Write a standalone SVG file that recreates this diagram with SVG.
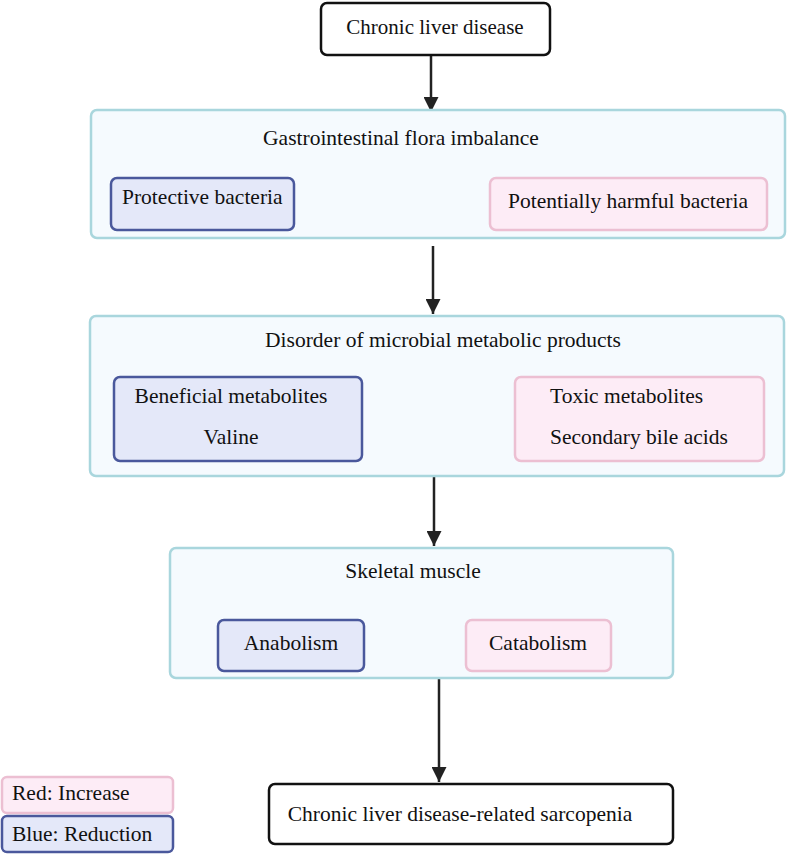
<svg xmlns="http://www.w3.org/2000/svg" width="787" height="856" viewBox="0 0 787 856">
<style>
text{font-family:"Liberation Serif","Times New Roman",serif;font-size:21.5px;fill:#111}
.blk{fill:#fff;stroke:#111;stroke-width:2.5}
.cont{fill:#f5fafe;stroke:#a9d6dd;stroke-width:2.5}
.blue{fill:#e4e8f9;stroke:#4a589c;stroke-width:2.5}
.red{fill:#fdecf6;stroke:#ecbfd2;stroke-width:2.5}
.c{text-anchor:middle}
.conn line{stroke:#222;stroke-width:2.5}
</style>
<defs>
<marker id="ah" viewBox="0 0 10 10" refX="10" refY="5" markerWidth="6" markerHeight="6" markerUnits="strokeWidth" orient="auto">
<path d="M0,0 L10,5 L0,10 z" fill="#222"/>
</marker>
</defs>
<g class="conn">
<line x1="431" y1="56" x2="431" y2="112" marker-end="url(#ah)"/>
<line x1="433" y1="246" x2="433" y2="314" marker-end="url(#ah)"/>
<line x1="434" y1="477" x2="434" y2="546" marker-end="url(#ah)"/>
<line x1="439" y1="679" x2="439" y2="782" marker-end="url(#ah)"/>
</g>
<g id="n_cld"><rect class="blk" x="321" y="3" width="229" height="52" rx="6"/><text class="c" x="435" y="34" style="font-size:21px">Chronic liver disease</text></g>
<g id="n_flora"><rect class="cont" x="91" y="110" width="694" height="128" rx="6"/><text class="c" x="401" y="145">Gastrointestinal flora imbalance</text></g>
<g id="n_protect"><rect class="blue" x="111" y="178" width="183" height="52" rx="6"/><text x="122" y="204">Protective bacteria</text></g>
<g id="n_harm"><rect class="red" x="490" y="178" width="277" height="52" rx="6"/><text class="c" x="628" y="208">Potentially harmful bacteria</text></g>
<g id="n_disorder"><rect class="cont" x="90" y="316" width="694" height="160" rx="6"/><text class="c" x="443" y="347">Disorder of microbial metabolic products</text></g>
<g id="n_benef"><rect class="blue" x="114" y="377" width="248" height="84" rx="6"/><text class="c" x="231" y="403">Beneficial metabolites</text><text class="c" x="231" y="444">Valine</text></g>
<g id="n_toxic"><rect class="red" x="515" y="377" width="249" height="84" rx="6"/><text x="550" y="403">Toxic metabolites</text><text x="550" y="444">Secondary bile acids</text></g>
<g id="n_muscle"><rect class="cont" x="170" y="548" width="503" height="130" rx="6"/><text class="c" x="413" y="578">Skeletal muscle</text></g>
<g id="n_anab"><rect class="blue" x="218" y="620" width="146" height="51" rx="6"/><text class="c" x="291" y="650">Anabolism</text></g>
<g id="n_catab"><rect class="red" x="466" y="620" width="145" height="51" rx="6"/><text class="c" x="538" y="650">Catabolism</text></g>
<g id="n_sarco"><rect class="blk" x="269" y="784" width="404" height="60" rx="6"/><text class="c" x="460" y="821">Chronic liver disease-related sarcopenia</text></g>
<g id="legend_red"><rect class="red" x="2" y="777" width="171" height="36" rx="5"/><text x="12" y="800">Red: Increase</text></g>
<g id="legend_blue"><rect class="blue" x="2" y="816" width="171" height="36" rx="5"/><text x="12" y="841">Blue: Reduction</text></g>
</svg>
